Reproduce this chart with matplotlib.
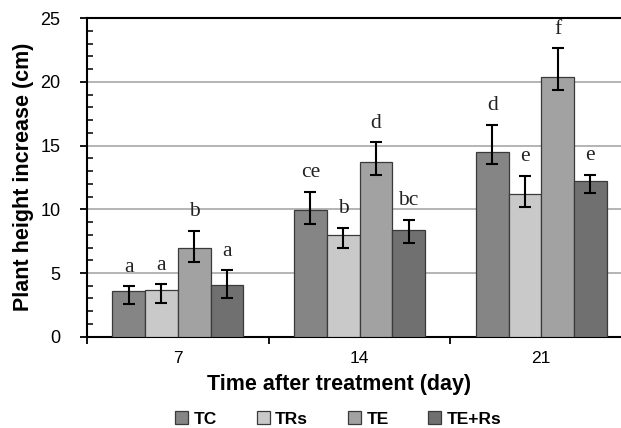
import numpy as np
import matplotlib.pyplot as plt
from matplotlib.patches import Patch
from matplotlib.ticker import MultipleLocator

days = ["7", "14", "21"]
treatments = ["TC", "TRs", "TE", "TE+Rs"]
colors = ["#858585", "#c9c9c9", "#a2a2a2", "#707070"]

means = {
    "TC": [3.55, 9.92, 14.53],
    "TRs": [3.67, 7.98, 11.23],
    "TE": [6.93, 13.69, 20.37],
    "TE+Rs": [4.05, 8.37, 12.26],
}
err_up = {
    "TC": [0.41, 1.47, 2.09],
    "TRs": [0.44, 0.58, 1.41],
    "TE": [1.39, 1.57, 2.26],
    "TE+Rs": [1.18, 0.83, 0.45],
}
err_down = {
    "TC": [0.98, 1.05, 1.00],
    "TRs": [1.02, 1.02, 1.05],
    "TE": [1.04, 0.99, 1.00],
    "TE+Rs": [1.05, 1.04, 0.99],
}
letters = {
    "TC": ["a", "ce", "d"],
    "TRs": ["a", "b", "e"],
    "TE": ["b", "d", "f"],
    "TE+Rs": ["a", "bc", "e"],
}

fig = plt.figure(figsize=(6.21, 4.28), dpi=100)
ax = fig.add_axes([0.140, 0.2133, 0.878, 0.744])

x = np.arange(len(days))
w = 0.18
for i, t in enumerate(treatments):
    pos = x + (i - 1.5) * w
    ax.bar(pos, means[t], w, color=colors[i], edgecolor="#3a3a3a", linewidth=0.9, zorder=3)
    ax.errorbar(pos, means[t], yerr=[err_down[t], err_up[t]], fmt="none",
                ecolor="black", elinewidth=1.5, capsize=4, capthick=1.5, zorder=4)
    for j in range(len(days)):
        top = means[t][j] + err_up[t][j]
        ax.annotate(letters[t][j], (pos[j], top), xytext=(0, 10.5), textcoords="offset points",
                    ha="center", va="baseline", fontsize=15.5, family="Liberation Serif",
                    color="#222222")

ax.set_xlim(-0.5, 2.5)
ax.set_ylim(0, 25)
ax.set_xticks([-0.5, 0.5, 1.5, 2.5])
ax.set_xticklabels([])
ax.set_xticks(x, minor=True)
ax.set_xticklabels(days, minor=True, fontsize=12.5, family="Liberation Sans")
ax.tick_params(axis="x", which="major", direction="out", length=5, width=1.3)
ax.tick_params(axis="x", which="minor", length=0, pad=10)
ax.yaxis.set_major_locator(MultipleLocator(5))
ax.yaxis.set_minor_locator(MultipleLocator(1))
ax.tick_params(axis="y", which="major", direction="out", length=5, width=1.3,
               labelsize=13, pad=14)
ax.tick_params(axis="y", which="minor", direction="in", length=4, width=1.1)
for lab in ax.get_yticklabels():
    lab.set_family("Liberation Sans")
ax.yaxis.grid(True, which="major", color="#b4b4b4", linewidth=1.4, zorder=0)
ax.set_axisbelow(True)
for s in ax.spines.values():
    s.set_linewidth(1.5)
ax.spines["right"].set_visible(False)

ax.set_ylabel("Plant height increase (cm)", fontsize=15.5, fontweight="bold",
              family="Liberation Sans", va="center")
ax.yaxis.set_label_coords(-0.117, 0.503)
ax.set_xlabel("Time after treatment (day)", fontsize=15.5, fontweight="bold",
              family="Liberation Sans", va="center")
ax.xaxis.set_label_coords(0.462, -0.149)

handles = [Patch(facecolor=c, edgecolor="#3a3a3a", linewidth=0.9) for c in colors]
fig.legend(handles, treatments, loc="center", bbox_to_anchor=(0.545, 0.021), ncol=4,
           frameon=False, handlelength=0.75, handleheight=0.75, handletextpad=0.3,
           columnspacing=2.3, prop={"family": "Liberation Sans", "weight": "bold", "size": 12.5})

fig.savefig("out.png", dpi=100)
